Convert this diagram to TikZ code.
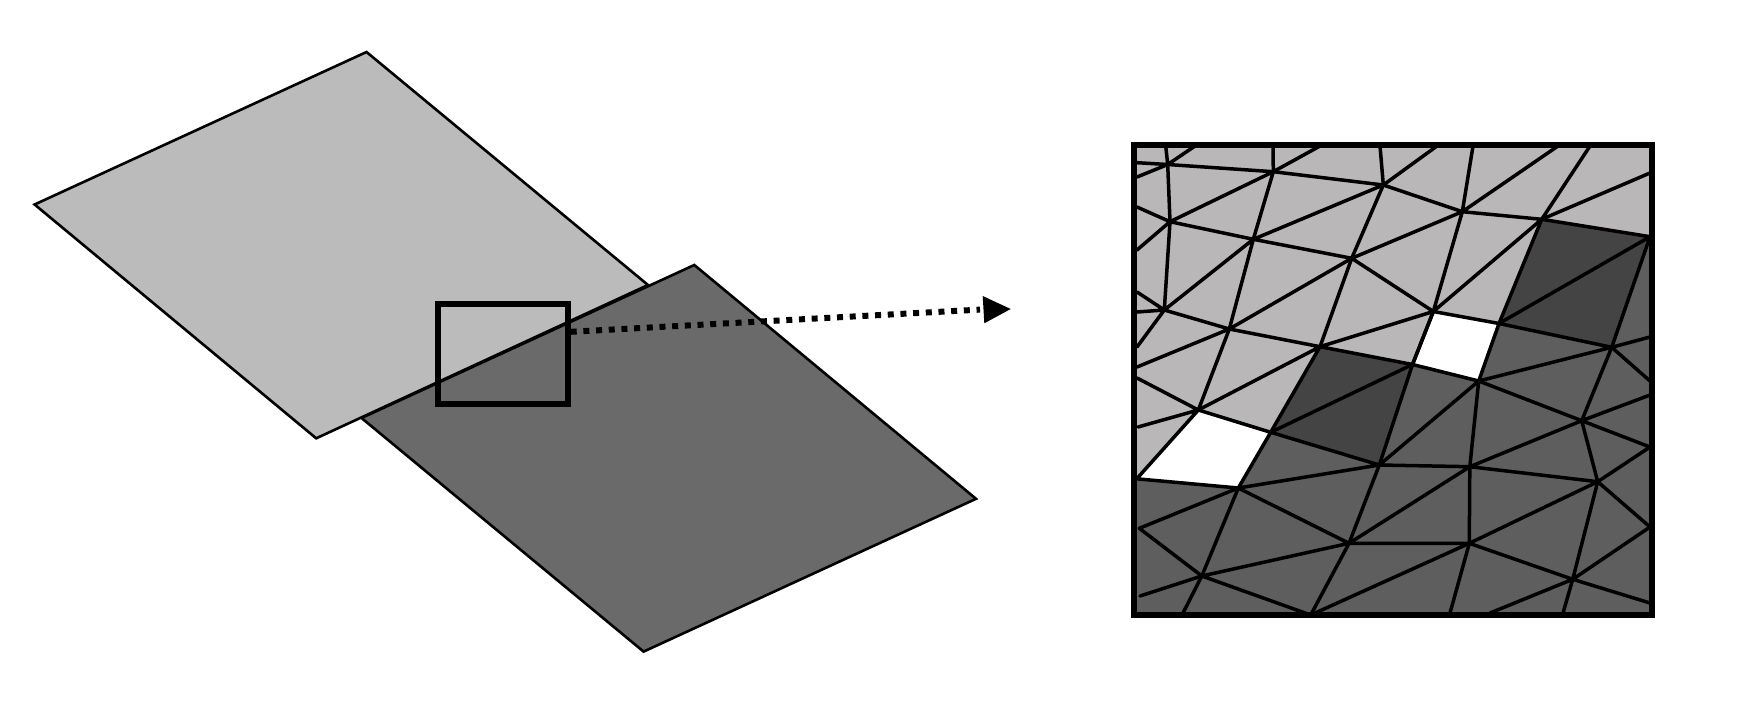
\documentclass[tikz,border=0pt]{standalone}
\definecolor{planeLight}{HTML}{BBBBBB}
\definecolor{planeDark}{HTML}{6A6A6A}
\definecolor{meshLight}{HTML}{B9B7B8}
\definecolor{meshMid}{HTML}{5E5E5E}
\definecolor{meshDark}{HTML}{444444}
\tikzset{
  plane/.style={draw=black,line width=2.6pt,line join=miter},
  frameline/.style={draw=black,line width=6.2pt,line join=miter},
  meshline/.style={draw=black,line width=3.5pt,line cap=round,line join=round},
  dotline/.style={draw=black,line width=6pt,dash pattern=on 6pt off 6.7pt},
}
\begin{document}
\begin{tikzpicture}[x=1pt,y=-1pt]
\useasboundingbox (0,0) rectangle (1752,720);
% planes
\coordinate (la) at (34.6,204.5); \coordinate (lb) at (366.5,52);
\coordinate (lc) at (648,285); \coordinate (ld) at (316.2,438.3);
\coordinate (da) at (694.3,265); \coordinate (db) at (976,498.8);
\coordinate (dc) at (643.6,651.6); \coordinate (dd) at (361.5,418);
\draw[plane,fill=planeLight] (la)--(lb)--(lc)--(ld)--cycle;
\draw[plane,fill=planeDark] (da)--(db)--(dc)--(dd)--cycle;
% zoom window
\coordinate (wa) at (438.3,303.7); \coordinate (wb) at (567.7,404.3);
\draw[frameline] (wa) rectangle (wb);
% dotted arrow
\coordinate (aa) at (570.7,331.8); \coordinate (ab) at (980,309.6);
\coordinate (t1) at (982.7,296); \coordinate (t2) at (984.3,323.3); \coordinate (t3) at (1010.7,309);
\draw[dotline] (aa)--(ab);
\fill[black] (t1)--(t3)--(t2)--cycle;
% mesh corners
\coordinate (TL) at (1134,145); \coordinate (TR) at (1652,145);
\coordinate (BR) at (1652,615); \coordinate (BL) at (1134,615);
% mesh vertices
\coordinate (A) at (1167.7,164.5); \coordinate (B) at (1273.3,171.7);
\coordinate (C) at (1383.3,185); \coordinate (D) at (1170,221.7);
\coordinate (E) at (1253.3,239.3); \coordinate (F) at (1351.7,258.3);
\coordinate (G) at (1164.3,310); \coordinate (H) at (1229.3,329);
\coordinate (I) at (1320,346.7); \coordinate (J) at (1433.3,311.5);
\coordinate (K) at (1412.5,364.5); \coordinate (L) at (1462.3,211.7);
\coordinate (M) at (1541.7,219.3); \coordinate (N) at (1650,236.7);
\coordinate (O) at (1499,323.5); \coordinate (P) at (1611.7,347.3);
\coordinate (Q) at (1478.7,381); \coordinate (R) at (1198.3,410);
\coordinate (S) at (1270.7,432.3); \coordinate (T) at (1379.3,465);
\coordinate (U) at (1238.3,488); \coordinate (V) at (1136.7,478.8);
\coordinate (W) at (1139.3,528.3); \coordinate (X) at (1349,543.3);
\coordinate (Y) at (1201.8,576); \coordinate (Z) at (1310.7,615);
\coordinate (AA) at (1581.7,420.7); \coordinate (BB) at (1469.8,466.7);
\coordinate (CC) at (1597.7,481.7); \coordinate (DD) at (1469.3,543.3);
\coordinate (EE) at (1572.7,579.3);
% mesh free ends
\coordinate (t-a) at (1165.7,146); \coordinate (t-b) at (1195,146);
\coordinate (t-c) at (1273,146); \coordinate (t-d) at (1320,146);
\coordinate (t-e) at (1380,146); \coordinate (t-f) at (1437,146);
\coordinate (t-g) at (1473,146); \coordinate (t-h) at (1558,146);
\coordinate (t-i) at (1590,146);
\coordinate (l-a) at (1137,162.7); \coordinate (l-b) at (1137,177);
\coordinate (l-c) at (1137,207); \coordinate (l-d) at (1137,250);
\coordinate (l-e) at (1137,292); \coordinate (l-f) at (1137,312);
\coordinate (l-g) at (1137,347); \coordinate (l-h) at (1137,367);
\coordinate (l-i) at (1137,378); \coordinate (l-j) at (1138,427);
\coordinate (l-k) at (1140,596);
\coordinate (r-a) at (1650,173); \coordinate (r-b) at (1650,337);
\coordinate (r-c) at (1650,381); \coordinate (r-d) at (1650,395);
\coordinate (r-e) at (1650,447); \coordinate (r-f) at (1650,527);
\coordinate (r-g) at (1650,603);
\coordinate (b-a) at (1183,613); \coordinate (b-b) at (1450,613);
\coordinate (b-c) at (1490,613); \coordinate (b-d) at (1563,613);
% mesh fills
\fill[meshMid] (TL) rectangle (BR);
\fill[meshLight] (TL)--(TR)--(1652,236.7)--(M)--(O)--(J)--(K)--(I)--(S)--(R)--(V)--(1134,478.8)--cycle;
\fill[meshDark] (M)--(N)--(P)--(O)--cycle;
\fill[meshDark] (I)--(K)--(T)--(S)--cycle;
\fill[white] (J)--(O)--(Q)--(K)--cycle;
\fill[white] (V)--(R)--(S)--(U)--cycle;
% mesh edges
\draw[meshline] (A)--(t-a) (l-b)--(A)--(t-b) (l-a)--(A)--(B)--(C);
\draw[meshline] (B)--(t-c) (B)--(t-d) (C)--(t-e) (C)--(t-f);
\draw[meshline] (A)--(D)--(B) (D)--(l-c) (D)--(l-d) (D)--(E)--(F) (E)--(B) (E)--(C) (C)--(F);
\draw[meshline] (E)--(G)--(D) (G)--(l-e) (G)--(l-f) (G)--(l-g) (G)--(H)--(E) (H)--(F) (H)--(l-h);
\draw[meshline] (F)--(I) (F)--(J) (H)--(I)--(K)--(J)--(I) (H)--(R) (I)--(R) (I)--(S);
\draw[meshline] (C)--(L) (F)--(L) (L)--(t-g) (L)--(t-h) (L)--(M)--(t-i) (M)--(r-a) (L)--(J) (J)--(M);
\draw[meshline] (J)--(O)--(M)--(N)--(O)--(P)--(N) (P)--(r-b) (P)--(r-c) (P)--(Q)--(O) (J)--(K)--(Q);
\draw[meshline] (l-i)--(R)--(l-j) (V)--(R)--(S)--(T) (S)--(K)--(T) (S)--(U)--(T) (V)--(U);
\draw[meshline] (U)--(W)--(Y)--(U)--(X)--(T) (X)--(Y)--(Z)--(X) (Y)--(l-k) (Y)--(b-a);
\draw[meshline] (T)--(Q) (Q)--(AA) (Q)--(BB) (T)--(BB) (X)--(BB) (X)--(DD) (Z)--(DD) (BB)--(DD);
\draw[meshline] (AA)--(P) (AA)--(r-d) (AA)--(r-e) (AA)--(CC) (AA)--(BB)--(CC) (CC)--(r-e) (CC)--(r-f);
\draw[meshline] (DD)--(CC)--(EE)--(r-f) (EE)--(r-g) (EE)--(b-d) (EE)--(b-c) (DD)--(EE) (DD)--(b-b);
% mesh frame
\draw[frameline] (TL) rectangle (BR);
\end{tikzpicture}
\end{document}
